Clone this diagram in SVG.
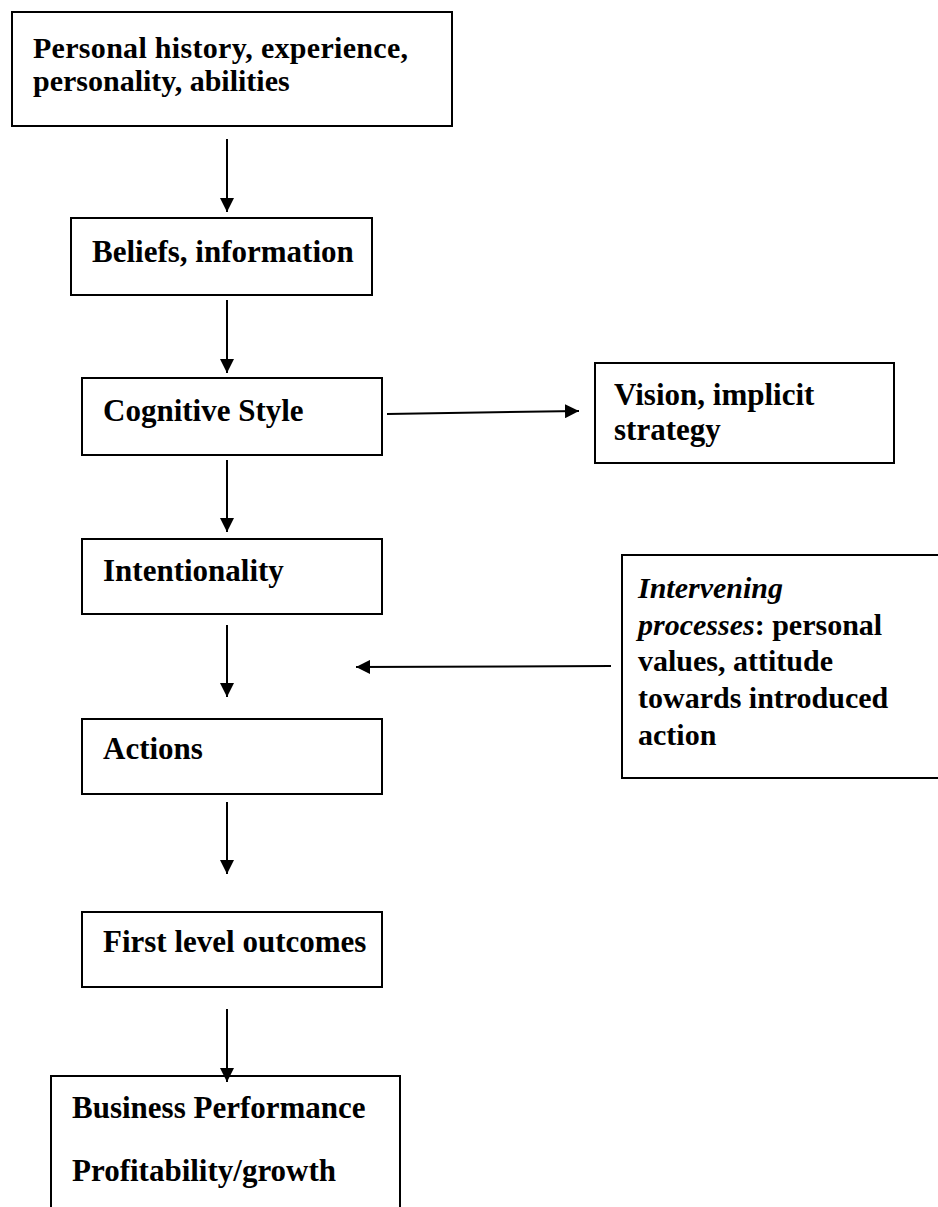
<svg xmlns="http://www.w3.org/2000/svg" width="938" height="1207" viewBox="0 0 938 1207">
  <defs>
    <marker id="arrow" viewBox="0 0 14 14" refX="14" refY="7" markerWidth="14" markerHeight="14" markerUnits="userSpaceOnUse" orient="auto">
      <path d="M0,0 L14,7 L0,14 Z" fill="#000"/>
    </marker>
    <style>
      .box { fill: #fff; stroke: #000; stroke-width: 2; }
      .lbl { font-family: "Liberation Serif", "Times New Roman", serif; font-weight: bold; font-size: 31px; fill: #000; }
      .sm { font-size: 30px; }
      .it { font-style: italic; }
      .edge { stroke: #000; stroke-width: 2; fill: none; marker-end: url(#arrow); }
    </style>
  </defs>
  <rect width="938" height="1207" fill="#fff"/>

  <!-- flow boxes -->
  <g id="history">
    <rect class="box" x="12" y="12" width="440" height="114"/>
    <text class="lbl sm" x="33" y="58" textLength="375" lengthAdjust="spacing">Personal history, experience,</text>
    <text class="lbl sm" x="33" y="91">personality, abilities</text>
  </g>
  <g id="beliefs">
    <rect class="box" x="71" y="218" width="301" height="77"/>
    <text class="lbl" x="92" y="262">Beliefs, information</text>
  </g>
  <g id="cognitive">
    <rect class="box" x="82" y="378" width="300" height="77"/>
    <text class="lbl" x="103" y="421">Cognitive Style</text>
  </g>
  <g id="vision">
    <rect class="box" x="595" y="363" width="299" height="100"/>
    <text class="lbl" x="614" y="405">Vision, implicit</text>
    <text class="lbl" x="614" y="440">strategy</text>
  </g>
  <g id="intentionality">
    <rect class="box" x="82" y="539" width="300" height="75"/>
    <text class="lbl" x="103" y="581">Intentionality</text>
  </g>
  <g id="intervening">
    <rect class="box" x="622" y="555" width="320" height="223"/>
    <text class="lbl sm it" x="638" y="598">Intervening</text>
    <text class="lbl sm" x="638" y="635"><tspan class="it">processes</tspan>: personal</text>
    <text class="lbl sm" x="638" y="671">values, attitude</text>
    <text class="lbl sm" x="638" y="708">towards introduced</text>
    <text class="lbl sm" x="638" y="745">action</text>
  </g>
  <g id="actions">
    <rect class="box" x="82" y="719" width="300" height="75"/>
    <text class="lbl" x="103" y="759">Actions</text>
  </g>
  <g id="outcomes">
    <rect class="box" x="82" y="912" width="300" height="75"/>
    <text class="lbl" x="103" y="952">First level outcomes</text>
  </g>
  <g id="performance">
    <rect class="box" x="51" y="1076" width="349" height="140"/>
    <text class="lbl" x="72" y="1118">Business Performance</text>
    <text class="lbl" x="72" y="1181">Profitability/growth</text>
  </g>

  <!-- connectors -->
  <g id="connectors">
    <line class="edge" x1="227" y1="139" x2="227" y2="212"/>
    <line class="edge" x1="227" y1="300" x2="227" y2="373"/>
    <line class="edge" x1="387" y1="414" x2="579" y2="411"/>
    <line class="edge" x1="227" y1="460" x2="227" y2="532"/>
    <line class="edge" x1="227" y1="625" x2="227" y2="697"/>
    <line class="edge" x1="611" y1="666" x2="356" y2="667"/>
    <line class="edge" x1="227" y1="802" x2="227" y2="874"/>
    <line class="edge" x1="227" y1="1009" x2="227" y2="1082"/>
  </g>
</svg>
